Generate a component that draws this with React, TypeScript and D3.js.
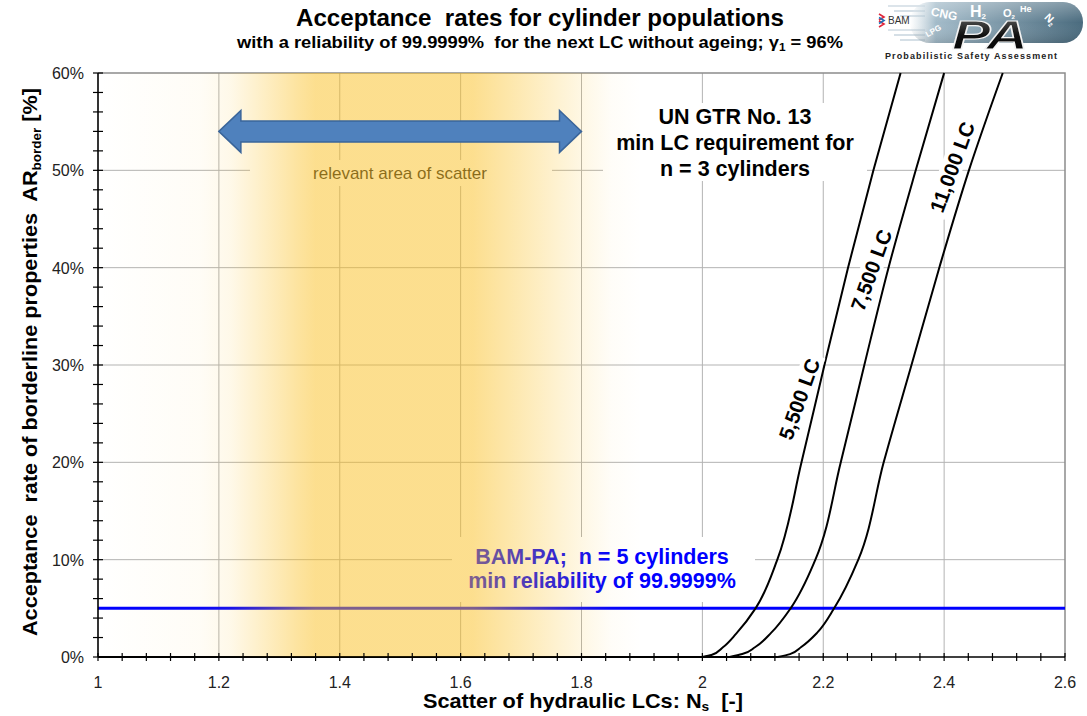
import React from 'react';
import * as d3 from 'd3';

const W = 1087;
const H = 716;
const PL = 98, PR = 1065, PT = 73, PB = 657;

// ---- data ----
const xTickValues = [1, 1.2, 1.4, 1.6, 1.8, 2, 2.2, 2.4, 2.6];
const xTickLabels = ['1', '1.2', '1.4', '1.6', '1.8', '2', '2.2', '2.4', '2.6'];
const yTickValues = [0, 10, 20, 30, 40, 50, 60];
const yTickLabels = ['0%', '10%', '20%', '30%', '40%', '50%', '60%'];

const curveNames = ['5,500 LC', '7,500 LC', '11,000 LC'];
const ns5500 = [2.0, 2.015, 2.034, 2.056, 2.088, 2.124, 2.164, 2.202, 2.241, 2.283, 2.328];
const ar5500 = [0, 0.2, 1, 2.4, 5, 10, 20, 30, 40, 50, 60];
const ns7500 = [2.045, 2.066, 2.087, 2.114, 2.146, 2.187, 2.229, 2.268, 2.308, 2.353, 2.4];
const ar7500 = [0, 0.3, 1, 2.5, 5, 10, 20, 30, 40, 50, 60];
const ns11000 = [2.125, 2.145, 2.163, 2.19, 2.218, 2.258, 2.3, 2.346, 2.392, 2.441, 2.497];
const ar11000 = [0, 0.3, 1, 2.5, 5, 10, 20, 30, 40, 50, 60];

const minReliabilityLevel = 5; // %

// relevant area of scatter (overlay opacity profile along Ns)
const bandNs = [1.0, 1.17, 1.22, 1.28, 1.33, 1.36, 1.62, 1.68, 1.75, 1.81, 1.85, 1.9];
const bandOpacity = [0, 0.08, 0.2, 0.55, 0.85, 1, 1, 0.75, 0.45, 0.2, 0.06, 0];
const arrowNs = [1.2, 1.8];
const arrowAR = 54;

const FONT = '"Liberation Sans", Arial, Helvetica, sans-serif';

export default function App() {
  const x = d3.scaleLinear().domain([1, 2.6]).range([PL, PR]);
  const y = d3.scaleLinear().domain([0, 60]).range([PB, PT]);

  const series = [
    { name: curveNames[0], ns: ns5500, ar: ar5500, lx: 799, ly: 399 },
    { name: curveNames[1], ns: ns7500, ar: ar7500, lx: 871, ly: 270 },
    { name: curveNames[2], ns: ns11000, ar: ar11000, lx: 952, ly: 167 },
  ];
  const line = d3
    .line<[number, number]>()
    .x((d) => x(d[0]))
    .y((d) => y(d[1]))
    .curve(d3.curveMonotoneY);

  const xMinor = d3.range(0, 41).map((i) => 1 + i * 0.04);
  const yMinor = d3.range(0, 31).map((i) => i * 2);

  const ax1 = x(arrowNs[0]);
  const ax2 = x(arrowNs[1]);
  const ay = y(arrowAR);
  const sh = 10.5; // half shaft
  const hh = 21; // half head
  const hl = 22; // head length
  const arrowPath = `M${ax1},${ay} L${ax1 + hl},${ay - hh} L${ax1 + hl},${ay - sh} L${ax2 - hl},${ay - sh} L${ax2 - hl},${ay - hh} L${ax2},${ay} L${ax2 - hl},${ay + hh} L${ax2 - hl},${ay + sh} L${ax1 + hl},${ay + sh} L${ax1 + hl},${ay + hh} Z`;

  return (
    <svg
      width={W}
      height={H}
      style={{ position: 'absolute', left: 0, top: 0, background: '#fff' }}
      fontFamily={FONT}
    >
      <defs>
        <linearGradient id="band" gradientUnits="userSpaceOnUse" x1={PL} x2={PR} y1={0} y2={0}>
          {bandNs.map((v, i) => (
            <stop
              key={i}
              offset={(x(v) - PL) / (PR - PL)}
              stopColor="rgb(250,190,30)"
              stopOpacity={bandOpacity[i] * 0.5}
            />
          ))}
        </linearGradient>
        <linearGradient id="pill" x1="0" x2="1" y1="0" y2="0">
          <stop offset="0" stopColor="#b9ccd7" stopOpacity="0" />
          <stop offset="0.15" stopColor="#a3bbc9" stopOpacity="1" />
          <stop offset="1" stopColor="#4a6b7e" stopOpacity="1" />
        </linearGradient>
        <linearGradient id="pillV" x1="0" x2="0" y1="0" y2="1">
          <stop offset="0" stopColor="#ffffff" stopOpacity="0.3" />
          <stop offset="0.5" stopColor="#ffffff" stopOpacity="0" />
          <stop offset="1" stopColor="#000000" stopOpacity="0.12" />
        </linearGradient>
        <linearGradient id="paFill" x1="0" x2="0" y1="0" y2="1">
          <stop offset="0" stopColor="#666" />
          <stop offset="0.5" stopColor="#111" />
          <stop offset="1" stopColor="#000" />
        </linearGradient>
        <clipPath id="plotClip">
          <rect x={PL} y={PT - 1} width={PR - PL} height={PB - PT + 2} />
        </clipPath>
      </defs>

      {/* gridlines */}
      <g stroke="#b3b3b3" strokeWidth={1}>
        {yTickValues.slice(1, -1).map((v) => (
          <line key={'gy' + v} x1={PL} x2={PR} y1={y(v)} y2={y(v)} />
        ))}
        {xTickValues.slice(1, -1).map((v) => (
          <line key={'gx' + v} x1={x(v)} x2={x(v)} y1={PT} y2={PB} />
        ))}
      </g>
      {/* frame top/right */}
      <path d={`M${PL},${PT} L${PR},${PT} L${PR},${PB}`} fill="none" stroke="#8c8c8c" strokeWidth={1.5} />

      {/* blue 5% line */}
      <line
        x1={PL}
        x2={PR}
        y1={y(minReliabilityLevel)}
        y2={y(minReliabilityLevel)}
        stroke="#0000ff"
        strokeWidth={3}
      />

      {/* curves */}
      <g clipPath="url(#plotClip)" fill="none" stroke="#000" strokeWidth={2}>
        <line x1={x(1)} x2={x(ns11000[0])} y1={y(0)} y2={y(0)} />
        {series.map((s) => (
          <path
            key={s.name}
            d={line(s.ns.map((v, i) => [v, s.ar[i]] as [number, number])) || ''}
          />
        ))}
      </g>

      {/* curve labels */}
      {series.map((s) => {
        const wTxt = s.name.length * 11;
        return (
          <g key={'l' + s.name} transform={`translate(${s.lx},${s.ly}) rotate(-70)`}>
            <rect x={-wTxt / 2 - 3} y={-11} width={wTxt + 6} height={22} fill="#fff" />
            <text
              textAnchor="middle"
              dominantBaseline="central"
              fontSize={20.5}
              fontWeight="bold"
              fill="#000"
            >
              {s.name}
            </text>
          </g>
        );
      })}

      {/* UN GTR box */}
      <rect x={603} y={103} width={264} height={78} fill="#fff" />
      <g fontSize={21.5} fontWeight="bold" textAnchor="middle" fill="#000">
        <text x={735} y={124}>UN GTR No. 13</text>
        <text x={735} y={150}>min LC requirement for</text>
        <text x={735} y={176}>n = 3 cylinders</text>
      </g>

      {/* relevant area label box */}
      <rect x={250} y={160} width={302} height={26} fill="#fff" />
      <text x={400} y={179} fontSize={17} textAnchor="middle" fill="#1a1a1a">
        relevant area of scatter
      </text>

      {/* BAM-PA box */}
      <rect x={452} y={537} width={303} height={65} fill="#fff" />
      <g fontSize={21.5} fontWeight="bold" textAnchor="middle" fill="#0000ff">
        <text x={602} y={564} style={{ whiteSpace: 'pre' }}>{'BAM-PA;  n = 5 cylinders'}</text>
        <text x={602} y={588}>min reliability of 99.9999%</text>
      </g>

      {/* yellow overlay */}
      <rect x={PL} y={PT} width={PR - PL} height={PB - PT} fill="url(#band)" />

      {/* arrow */}
      <path d={arrowPath} fill="#4f81bd" stroke="#3a659a" strokeWidth={1.5} />

      {/* axes */}
      <g stroke="#000">
        <line x1={PL} x2={PL} y1={PT} y2={PB} strokeWidth={1.6} />
        <line x1={PL} x2={PR} y1={PB} y2={PB} strokeWidth={1.6} />
        {yMinor.map((v) => (
          <line key={'ty' + v} x1={PL - 5} x2={PL + 5} y1={y(v)} y2={y(v)} strokeWidth={1.2} />
        ))}
        {xMinor.map((v, i) => (
          <line key={'tx' + i} x1={x(v)} x2={x(v)} y1={PB - 4} y2={PB + 4} strokeWidth={1.2} />
        ))}
      </g>
      <g fontSize={16} fill="#222" textAnchor="end">
        {yTickValues.map((v, i) => (
          <text key={'yl' + v} x={84} y={y(v) + 6}>
            {yTickLabels[i]}
          </text>
        ))}
      </g>
      <g fontSize={16} fill="#222" textAnchor="middle">
        {xTickValues.map((v, i) => (
          <text key={'xl' + v} x={x(v)} y={688}>
            {xTickLabels[i]}
          </text>
        ))}
      </g>

      {/* axis titles */}
      <text x={583} y={708} fontSize={20.5} fontWeight="bold" textAnchor="middle" fill="#000" style={{ whiteSpace: 'pre' }} textLength={320} lengthAdjust="spacingAndGlyphs">
        Scatter of hydraulic LCs: N
        <tspan fontSize={13} dy={3}>s</tspan>
        <tspan dy={-3}>{'  [-]'}</tspan>
      </text>
      <text
        transform="translate(37,362) rotate(-90)"
        fontSize={20}
        fontWeight="bold"
        textAnchor="middle"
        fill="#000"
        style={{ whiteSpace: 'pre' }}
        textLength={548}
        lengthAdjust="spacingAndGlyphs"
      >
        {'Acceptance  rate of borderline properties  AR'}
        <tspan fontSize={12.5} dy={4}>border</tspan>
        <tspan dy={-4}>{' [%]'}</tspan>
      </text>

      {/* titles */}
      <text x={540} y={26} fontSize={23} fontWeight="bold" textAnchor="middle" fill="#000" textLength={488} lengthAdjust="spacingAndGlyphs" style={{ whiteSpace: 'pre' }}>
        {'Acceptance  rates for cylinder populations'}
      </text>
      <text x={540} y={48} fontSize={17} fontWeight="bold" textAnchor="middle" fill="#000" style={{ whiteSpace: 'pre' }} textLength={606} lengthAdjust="spacingAndGlyphs">
        {'with a reliability of 99.9999%  for the next LC without ageing; γ'}
        <tspan fontSize={11} dy={3}>1</tspan>
        <tspan dy={-3}>{' = 96%'}</tspan>
      </text>

      {/* logo */}
      <g>
        {[6, 11, 16, 30, 35, 40].map((yy, i) => (
          <line key={'sp' + i} x1={888 + (i % 3) * 6} x2={925} y1={yy} y2={yy} stroke="#b9cad6" strokeWidth={1.2} />
        ))}
        <rect x={910} y={2} width={173} height={41} rx={20} fill="url(#pill)" />
        <rect x={910} y={2} width={173} height={41} rx={20} fill="url(#pillV)" />
        <path d="M879,14 l5,3 l-5,3 M879,21 l5,3 l-5,3" stroke="#e0263a" strokeWidth={1.6} fill="none" />
        <path d="M879,17.5 l5,3 l-5,3" stroke="#1f6fb5" strokeWidth={1.6} fill="none" />
        <text x={888} y={24} fontSize={10} fill="#333">BAM</text>
        <text x={931} y={18} fontSize={12} fontWeight="bold" fill="#fff" transform="rotate(12,944,13)">CNG</text>
        <text x={970} y={17} fontSize={16} fontWeight="bold" fill="#fff">H<tspan fontSize={8} dy={2}>2</tspan></text>
        <text x={1003} y={17} fontSize={11} fontWeight="bold" fill="#fff">O<tspan fontSize={6} dy={2}>2</tspan></text>
        <text x={1020} y={12} fontSize={9} fontWeight="bold" fill="#fff">He</text>
        <text x={1044} y={23} fontSize={11} fontWeight="bold" fill="#fff" transform="rotate(45,1050,20)">N<tspan fontSize={6} dy={2}>2</tspan></text>
        <text x={924} y={34} fontSize={8} fontWeight="bold" fill="#fff" transform="rotate(-30,932,29)">LPG</text>
        <text
          x={952}
          y={49}
          fontSize={40}
          fontWeight="bold"
          fontStyle="italic"
          fill="url(#paFill)"
          stroke="#f2f2f2"
          strokeWidth={1.2}
          textLength={76}
          lengthAdjust="spacingAndGlyphs"
        >
          PA
        </text>
        <text x={971} y={59} fontSize={9} fontWeight="bold" fill="#222" textAnchor="middle" textLength={172} lengthAdjust="spacing">
          Probabilistic Safety Assessment
        </text>
      </g>
    </svg>
  );
}
